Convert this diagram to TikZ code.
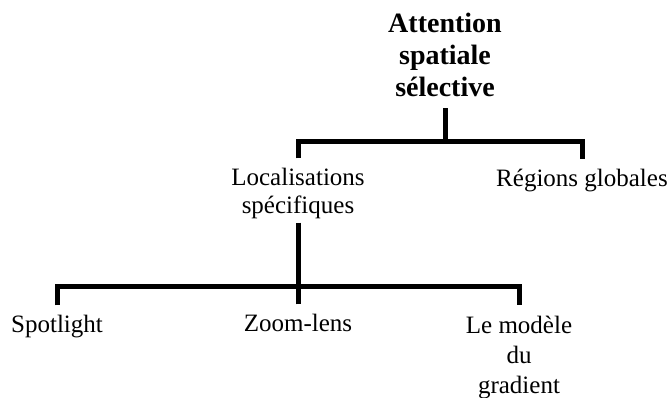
\documentclass[tikz,border=0pt]{standalone}
\usepackage{fontspec}
\setmainfont{Liberation Serif}
\usetikzlibrary{positioning}
\tikzset{
  every picture/.style = {
    x = 1pt,
    y = -1pt,
  }
  ,
  branch/.style = {
    line width = 5pt
  }
  , % top label
  root/.style = {
    font = \bfseries\fontsize{28}{32}\selectfont,
    align = center,
    inner xsep = 0pt,
    inner ysep = 11pt
  }
  , % lower labels
  leaf/.style = {
    font = \fontsize{25}{28}\selectfont,
    align = center,
    inner xsep = 0pt,
    inner ysep = 10pt
  }
}
\begin{document}
\begin{tikzpicture}
    \useasboundingbox (0,0) rectangle (670,398);
    % base is the last line here
    \node[root, anchor=base] (att) at (445,97) {Attention\\spatiale\\sélective};
    \node[leaf, anchor=base] (loc) at (298,214) {Localisations\\spécifiques};
    \node[leaf, anchor=base] (reg) at (582,187) {Régions globales};
    \node[leaf, anchor=base] (spot) at (57,333) {Spotlight};
    \node[leaf, anchor=base] (zoom) at (298,332) {Zoom-lens};
    \node[leaf, anchor=base, font=\fontsize{25}{30}\selectfont] (grad) at (519,393) {Le modèle\\du\\gradient};
    \coordinate (j1) at (att.south |- 0,142);
    \coordinate (j2) at (loc.south |- 0,287);
    \draw[branch] (att.south) -- (j1);
    \draw[branch] (loc.north) |- (j1) -| (reg.north);
    \draw[branch, shorten <=-7pt] (loc.south) -- (j2);
    \draw[branch] (spot.north) |- (j2) -| (grad.north);
    \draw[branch] (zoom.north) -- (j2);
\end{tikzpicture}
\end{document}
